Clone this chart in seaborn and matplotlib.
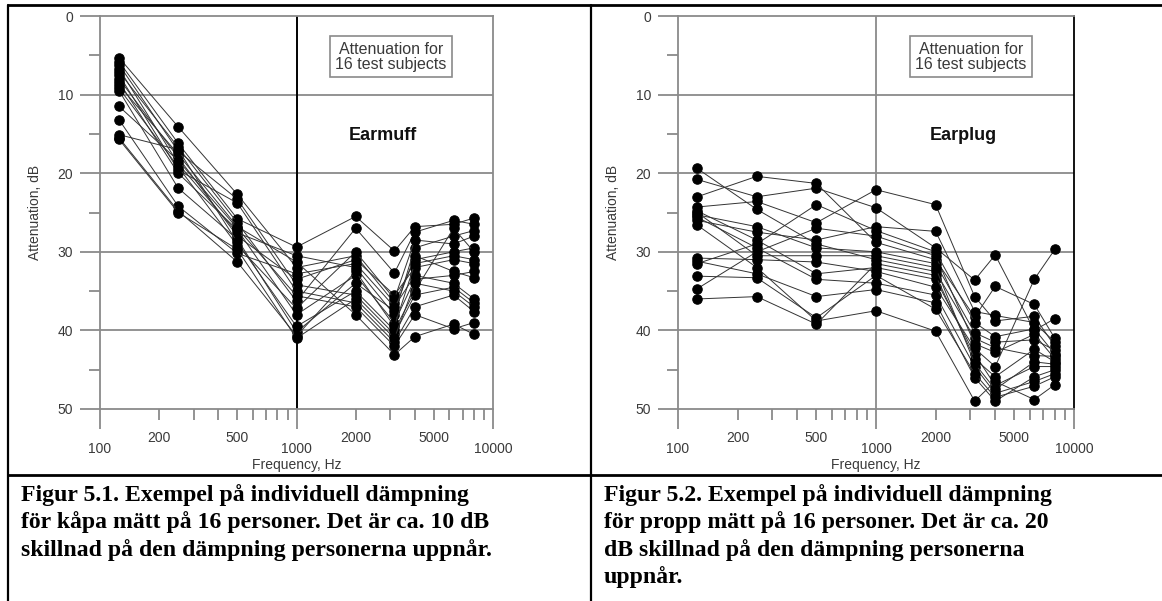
import matplotlib
matplotlib.use("Agg")
import matplotlib.pyplot as plt
import seaborn as sns
import pandas as pd
import numpy as np
from matplotlib.ticker import FixedLocator, FixedFormatter, NullFormatter
from matplotlib.lines import Line2D

# ---------------- data ----------------
freqs = [125, 250, 500, 1000, 2000, 3150, 4000, 6300, 8000]
subjects = list(range(1, 17))

# Earmuff: attenuation (dB) per frequency, listed in subject order 1..16
muff_125 = [5.3, 5.8, 6.2, 6.7, 7.1, 7.5, 8.0, 8.4, 8.8, 9.2, 9.5, 11.5, 13.2, 15.1, 15.5, 15.7]
muff_250 = [14.1, 16.2, 17.2, 18.8, 16.7, 19.6, 18.0, 20.0, 17.6, 19.2, 21.9, 18.4, 24.2, 17.0, 24.8, 25.0]
muff_500 = [22.7, 25.8, 23.3, 27.6, 26.3, 23.8, 28.0, 27.2, 26.8, 29.2, 28.4, 27.0, 30.2, 28.8, 31.3, 29.7]
muff_1000 = [32.0, 29.4, 34.2, 30.5, 36.3, 35.0, 33.5, 38.0, 31.3, 37.2, 40.2, 35.6, 32.8, 39.5, 40.7, 41.0]
muff_2000 = [30.5, 25.5, 35.5, 32.0, 27.0, 36.5, 31.0, 33.0, 38.0, 30.0, 34.0, 37.0, 31.5, 35.0, 32.5, 36.0]
muff_3150 = [36.5, 29.9, 40.5, 38.0, 32.7, 41.5, 35.5, 39.0, 43.1, 36.0, 37.5, 42.0, 37.0, 40.0, 39.5, 41.0]
muff_4000 = [31.0, 26.8, 35.5, 29.5, 27.5, 37.0, 32.0, 33.5, 40.8, 28.5, 30.5, 38.0, 33.0, 35.0, 31.5, 34.0]
muff_6300 = [30.0, 26.5, 34.5, 28.0, 26.0, 35.5, 31.0, 33.0, 39.2, 29.0, 32.5, 39.8, 34.0, 27.0, 30.5, 35.0]
muff_8000 = [29.5, 25.7, 36.5, 27.3, 26.5, 37.6, 31.5, 32.5, 40.5, 28.0, 33.3, 39.0, 36.0, 30.0, 31.0, 37.0]

# Earplug
plug_125 = [19.4, 20.8, 23.0, 24.3, 24.8, 25.3, 25.6, 26.0, 26.6, 30.8, 31.2, 31.5, 33.1, 34.7, 36.0, 25.0]
plug_250 = [24.6, 23.0, 20.4, 23.6, 28.5, 26.8, 29.5, 27.5, 32.0, 31.0, 32.8, 29.0, 33.3, 30.0, 35.7, 30.5]
plug_500 = [29.0, 21.9, 21.3, 26.3, 32.8, 29.5, 33.5, 28.5, 38.8, 31.3, 35.7, 24.0, 38.4, 27.0, 39.2, 30.5]
plug_1000 = [31.0, 24.4, 28.8, 22.1, 32.0, 30.0, 34.0, 26.8, 37.5, 32.5, 34.8, 27.3, 33.0, 28.0, 31.5, 30.5]
plug_2000 = [32.5, 29.5, 31.0, 24.0, 33.5, 31.5, 35.5, 27.4, 40.1, 34.5, 36.5, 30.0, 37.3, 30.5, 33.0, 32.0]
plug_3150 = [41.0, 33.6, 38.3, 35.7, 43.0, 40.3, 44.6, 37.6, 49.0, 42.3, 46.0, 39.0, 45.5, 41.7, 43.6, 44.2]
plug_4000 = [42.2, 30.4, 34.4, 38.8, 47.0, 41.5, 48.0, 38.1, 46.5, 44.6, 49.0, 40.8, 48.5, 42.8, 45.9, 47.5]
plug_6300 = [43.2, 40.0, 36.7, 38.2, 44.6, 41.2, 46.5, 39.0, 48.8, 33.5, 45.9, 39.8, 47.1, 40.5, 42.4, 44.0]
plug_8000 = [43.3, 38.5, 41.0, 42.0, 44.6, 42.5, 45.5, 41.5, 46.9, 29.7, 45.0, 43.0, 45.9, 43.6, 44.0, 44.3]

muff_cols = [muff_125, muff_250, muff_500, muff_1000, muff_2000, muff_3150, muff_4000, muff_6300, muff_8000]
plug_cols = [plug_125, plug_250, plug_500, plug_1000, plug_2000, plug_3150, plug_4000, plug_6300, plug_8000]

x_major = [100, 1000, 10000]
x_minor_labeled = [200, 500, 2000, 5000]
y_ticks = [0, 10, 20, 30, 40, 50]

panel_titles = ["Earmuff", "Earplug"]
box_text = "Attenuation for\n16 test subjects"
xlabel = "Frequency, Hz"
ylabel = "Attenuation, dB"
captions = [
    "Figur 5.1. Exempel på individuell dämpning\nför kåpa mätt på 16 personer. Det är ca. 10 dB\nskillnad på den dämpning personerna uppnår.",
    "Figur 5.2. Exempel på individuell dämpning\nför propp mätt på 16 personer. Det är ca. 20\ndB skillnad på den dämpning personerna\nuppnår.",
]


def long_df(cols):
    rows = []
    for f, vals in zip(freqs, cols):
        for s, v in zip(subjects, vals):
            rows.append({"freq": f, "subject": s, "att": v})
    return pd.DataFrame(rows)


# ---------------- figure ----------------
sns.set_style("white")
plt.rcParams["font.family"] = ["Liberation Sans", "DejaVu Sans"]

W, H = 1162, 601
fig = plt.figure(figsize=(W / 100, H / 100), dpi=100)

GRID = "#8a8a8a"
TXT = "#3a3a3a"


def px_axes(x0, x1, y0, y1):
    return fig.add_axes([x0 / W, 1 - y1 / H, (x1 - x0) / W, (y1 - y0) / H])


axes = [px_axes(100, 493, 16, 409), px_axes(678, 1074, 16, 409)]

for i, (ax, cols) in enumerate(zip(axes, [muff_cols, plug_cols])):
    df = long_df(cols)
    ax.set_xscale("log")
    sns.lineplot(data=df, x="freq", y="att", units="subject", estimator=None,
                 color="#333333", lw=0.7, marker="o", markersize=6.8,
                 markeredgecolor="black", markerfacecolor="black",
                 sort=False, ax=ax, legend=False, zorder=3)
    ax.set_xlim(100, 10000)
    ax.set_ylim(50, 0)

    # horizontal grid
    for y in [10, 20, 30, 40]:
        ax.axhline(y, color=GRID, lw=1.3, zorder=1)
    # decade line at 1000
    ax.axvline(1000, color="black" if i == 0 else GRID, lw=1.4 if i == 0 else 1.3, zorder=1)

    for side in ["left", "top", "bottom", "right"]:
        ax.spines[side].set_color(GRID)
        ax.spines[side].set_linewidth(1.3)
    if i == 1:
        ax.spines["right"].set_color("black")

    # y ticks
    ax.yaxis.set_major_locator(FixedLocator(y_ticks))
    ax.yaxis.set_minor_locator(FixedLocator([5, 15, 25, 35, 45]))
    ax.yaxis.set_minor_formatter(NullFormatter())
    ax.set_yticklabels([str(t) for t in y_ticks])
    ax.tick_params(axis="y", which="major", direction="out", length=14.5, width=1.3,
                   color=GRID, labelsize=10, labelcolor=TXT, pad=5, left=True)
    ax.tick_params(axis="y", which="minor", direction="out", length=8, width=1.3,
                   color=GRID, left=True)

    # x ticks
    minors = [m * d for d in [100, 1000] for m in range(2, 10)]
    ax.xaxis.set_major_locator(FixedLocator(x_major))
    ax.xaxis.set_major_formatter(FixedFormatter([str(v) for v in x_major]))
    ax.xaxis.set_minor_locator(FixedLocator(minors))
    ax.xaxis.set_minor_formatter(FixedFormatter(
        [str(v) if v in x_minor_labeled else "" for v in minors]))
    ax.tick_params(axis="x", which="major", direction="out", length=14.5, width=1.3,
                   color=GRID, labelsize=10, labelcolor=TXT, pad=9, bottom=True)
    ax.tick_params(axis="x", which="minor", direction="out", length=8, width=1.3,
                   color=GRID, labelsize=10, labelcolor=TXT, pad=8, bottom=True)

    ax.set_xlabel(xlabel, fontsize=10, color=TXT, labelpad=2)
    ax.set_ylabel(ylabel, fontsize=10, color=TXT, labelpad=11)

    ax.text(3020, 5.2, box_text, ha="center", va="center", fontsize=11.5,
            color=TXT, linespacing=1.05,
            bbox=dict(boxstyle="square,pad=0.32", fc="white", ec=GRID, lw=1.2),
            zorder=5)
    ax.text(2750, 15.2, panel_titles[i], ha="center", va="center",
            fontsize=13, fontweight="bold", color="#111111", zorder=5)

# table borders
def hline(y, x0, x1, lw=1.6):
    fig.add_artist(Line2D([x0 / W, x1 / W], [1 - y / H, 1 - y / H], color="black", lw=lw))


def vline(x, y0, y1, lw=1.6):
    fig.add_artist(Line2D([x / W, x / W], [1 - y0 / H, 1 - y1 / H], color="black", lw=lw))

hline(5, 8, W, lw=2.0)
hline(475, 8, W, lw=2.0)
vline(8, 5, H)
vline(591, 5, H)

# captions
for x0, cap in zip([21, 604], captions):
    fig.text(x0 / W, 1 - 484 / H, cap, ha="left", va="top", fontsize=17.1,
             fontweight="bold", family=["Liberation Serif", "DejaVu Serif"],
             color="black", linespacing=1.32)

fig.savefig("out.png", dpi=100)
